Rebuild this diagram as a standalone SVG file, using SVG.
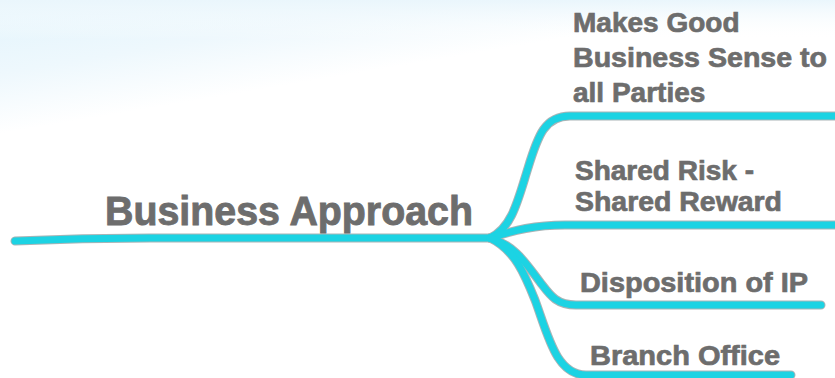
<svg xmlns="http://www.w3.org/2000/svg" width="835" height="378" viewBox="0 0 835 378">
  <defs>
    <linearGradient id="bg" gradientUnits="userSpaceOnUse" x1="0" y1="0" x2="22" y2="130">
      <stop offset="0" stop-color="#E2F4FC"/>
      <stop offset="0.55" stop-color="#EEF8FD"/>
      <stop offset="1" stop-color="#FFFFFF"/>
    </linearGradient>
    <linearGradient id="bg2" gradientUnits="userSpaceOnUse" x1="0" y1="0" x2="0" y2="40">
      <stop offset="0" stop-color="#EAF6FC"/>
      <stop offset="1" stop-color="#FFFFFF" stop-opacity="0"/>
    </linearGradient>
  </defs>
  <style>
    .lbl { font-family: "Liberation Sans", Arial, Helvetica, sans-serif; font-weight: bold; fill: #6D6D6D; stroke: #6D6D6D; stroke-width: 0.7; }
    .root { font-size: 40px; stroke-width: 0.9; }
    .sub { font-size: 28px; }
    .edge-o { fill: none; stroke: #A9B4B6; stroke-width: 9; stroke-linecap: round; }
    .edge { fill: none; stroke: #1CD3E3; stroke-width: 7; stroke-linecap: round; }
  </style>
  <rect x="0" y="0" width="835" height="378" fill="#FFFFFF"/>
  <rect x="0" y="0" width="835" height="378" fill="url(#bg)"/>
  <rect x="0" y="0" width="835" height="40" fill="url(#bg2)"/>

  <g id="connectors">
    <path class="edge-o" d="M15,241 C60,239 100,238 150,238 L490,238" stroke-linecap="butt"/>
    <path class="edge-o" d="M490,238 C512,228 518,200 528,168 C538,135 545,116 570,116 L840,116"/>
    <path class="edge-o" d="M490,238 C515,230 535,225 565,225 L840,225"/>
    <path class="edge-o" d="M490,238 C515,245 527,265 540,282 C550,295 556,305 576,305 L821,305"/>
    <path class="edge-o" d="M490,238 C515,250 525,275 535,300 C548,335 556,375 586,375 L791,375"/>
    <path class="edge" d="M15,241 C60,239 100,238 150,238 L490,238" stroke-linecap="butt"/>
    <path class="edge" d="M490,238 C512,228 518,200 528,168 C538,135 545,116 570,116 L840,116"/>
    <path class="edge" d="M490,238 C515,230 535,225 565,225 L840,225"/>
    <path class="edge" d="M490,238 C515,245 527,265 540,282 C550,295 556,305 576,305 L821,305"/>
    <path class="edge" d="M490,238 C515,250 525,275 535,300 C548,335 556,375 586,375 L791,375"/>
  </g>

  <g id="node-root">
    <text class="lbl root" x="105" y="225" textLength="368" lengthAdjust="spacingAndGlyphs">Business Approach</text>
  </g>
  <g id="node-good-sense">
    <text class="lbl sub" x="573" y="32">Makes Good</text>
    <text class="lbl sub" x="573" y="67" textLength="254" lengthAdjust="spacingAndGlyphs">Business Sense to</text>
    <text class="lbl sub" x="573" y="102">all Parties</text>
  </g>
  <g id="node-shared-risk">
    <text class="lbl sub" x="575" y="180">Shared Risk -</text>
    <text class="lbl sub" x="575" y="211" textLength="207" lengthAdjust="spacingAndGlyphs">Shared Reward</text>
  </g>
  <g id="node-ip">
    <text class="lbl sub" x="580" y="292" textLength="228" lengthAdjust="spacingAndGlyphs">Disposition of IP</text>
  </g>
  <g id="node-branch">
    <text class="lbl sub" x="590" y="365" textLength="190" lengthAdjust="spacingAndGlyphs">Branch Office</text>
  </g>
</svg>
